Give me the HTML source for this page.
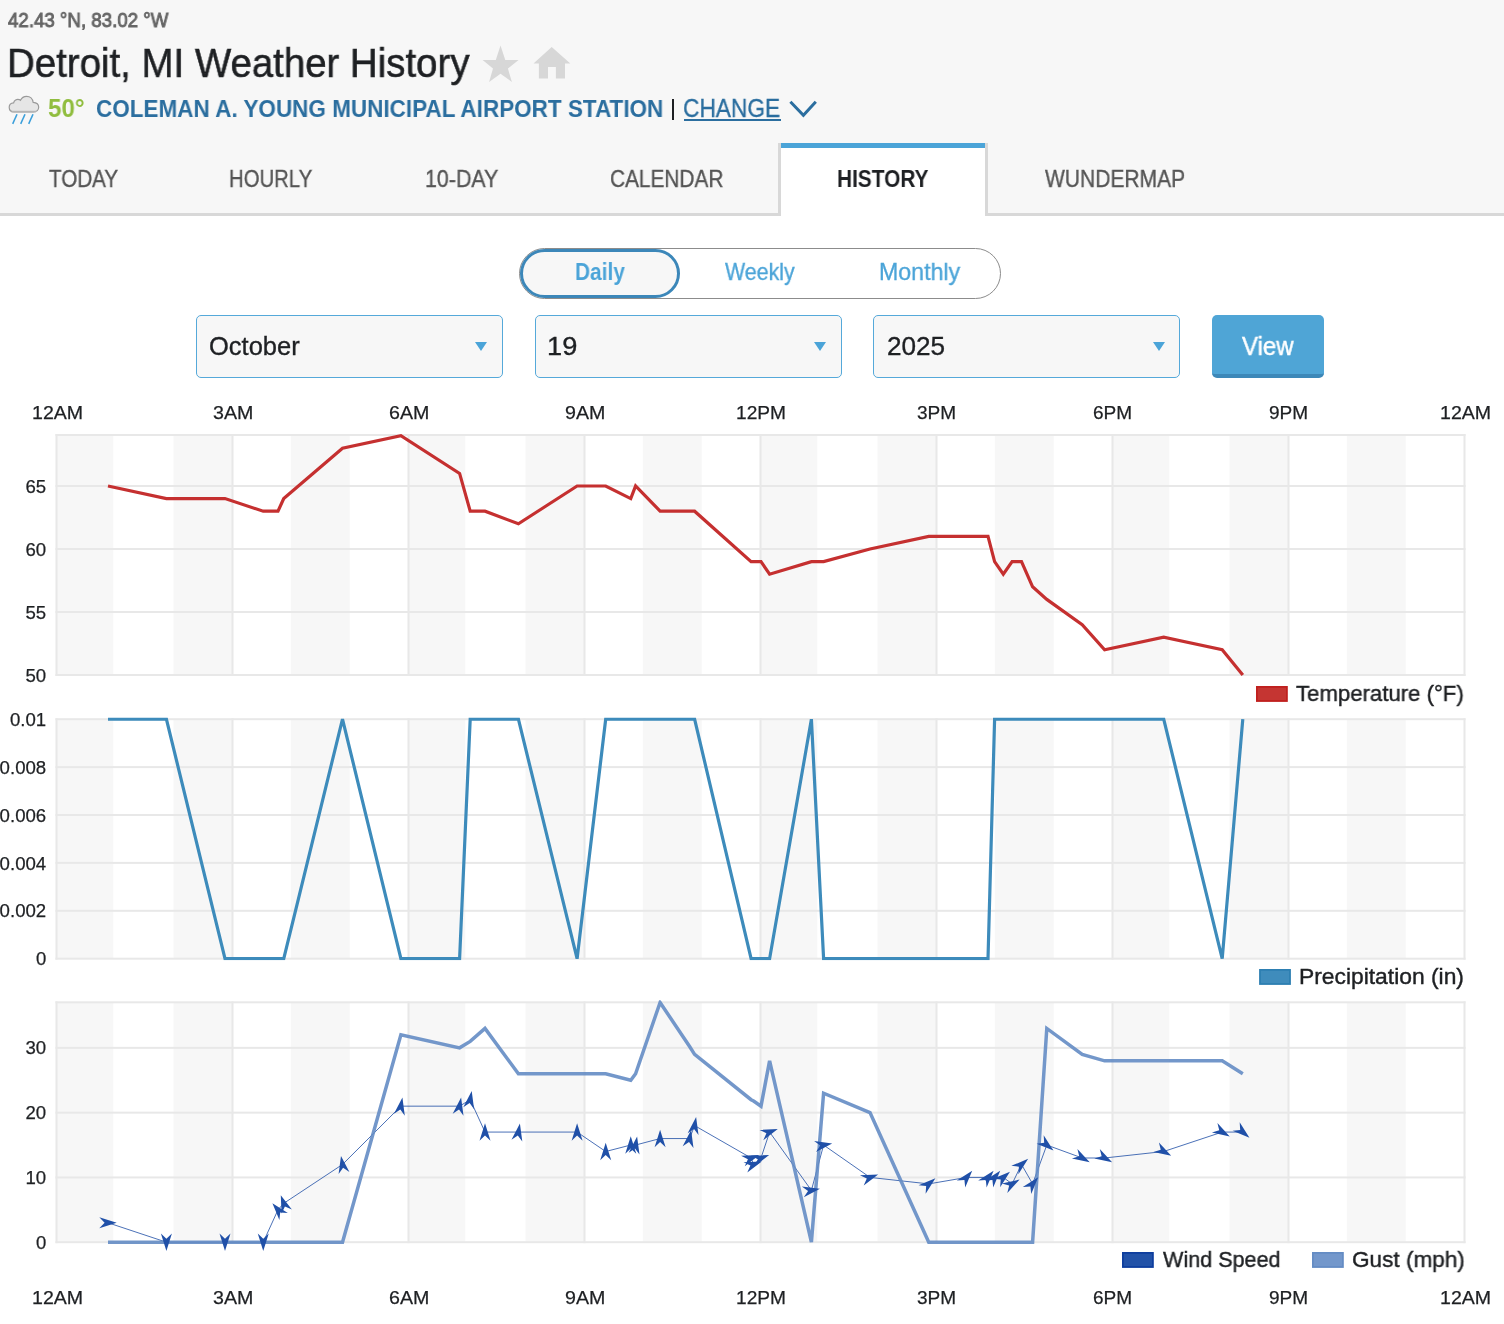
<!DOCTYPE html>
<html lang="en">
<head>
<meta charset="utf-8">
<title>Detroit, MI Weather History</title>
<style>
html,body{margin:0;padding:0;background:#fff;}
body{width:1504px;height:1324px;position:relative;overflow:hidden;font-family:"Liberation Sans",sans-serif;}
.t{will-change:transform;position:absolute;white-space:nowrap;line-height:1;transform-origin:0 50%;display:block;}
.abs{position:absolute;}
h1.t{margin:0;}a.t{text-decoration:none;cursor:pointer;}b.t{font-weight:normal;}
#header{left:0;top:0;width:1504px;height:213px;background:#f7f7f7;}
#tabline{left:0;top:213px;width:1504px;height:3px;background:#d8d8d8;}
#tabact{left:778px;top:143px;width:204px;height:73px;border-left:3px solid #d8d8d8;border-right:3px solid #d8d8d8;background:#fff;}
#tabact i{display:block;height:5px;background:#4ba4d8;}
#pill{left:519px;top:248px;width:480px;height:49px;border:1px solid #8c8c8c;border-radius:26px;background:#fff;}
#pillsel{left:520px;top:249px;width:154px;height:43px;border:3px solid #3c87b9;border-radius:26px;background:#f7f7f7;}
.sel{top:315px;height:61px;width:305px;border:1.4px solid #55a9da;border-radius:5px;background:#f7f7f7;}
.arr{width:0;height:0;border-left:6.3px solid transparent;border-right:6.3px solid transparent;border-top:9.5px solid #4ba4d8;top:342.4px;}
#viewbtn{left:1212px;top:315px;width:112px;height:59px;border-bottom:4px solid #3d88b8;border-radius:5px;background:#4fa5d6;}
#chg_ul{left:684px;top:119px;width:96.5px;height:2px;background:#2b6e9f;}
#vbar{left:672.2px;top:99.4px;width:1.8px;height:20.6px;background:#1e2023;}
</style>
</head>
<body>
<div id="header" class="abs"></div>
<div id="tabline" class="abs"></div>
<div id="tabact" class="abs"><i></i></div>
<svg class="abs" style="left:0;top:0" width="1504" height="216" viewBox="0 0 1504 216">
 <!-- star -->
 <polygon points="500.5,45.4 505.3,60 518.6,60 507.9,68.6 511.9,81.9 500.5,73.7 489.1,81.9 493,68.6 482.6,60 495.8,60" fill="#d7d7d7"/>
 <!-- home -->
 <path d="M551.7,47 L570.3,63.5 L565,63.5 L565,78.6 L555.9,78.6 L555.9,67 L548,67 L548,78.6 L538.9,78.6 L538.9,63.5 L533.5,63.5 Z" fill="#d7d7d7"/>
 <!-- cloud -->
 <path d="M14.2,112 C10.8,112 9.2,109.7 9.2,107.3 C9.2,104.6 11.2,102.9 13.6,102.8 C14.2,100.2 16.6,98.9 19.2,99.6 C19.6,99.7 20.1,99.9 20.5,100.2 C21.7,97.6 24.1,96.3 26.6,96.3 C30.1,96.3 32.7,98.9 33.1,102.3 C36.4,102.5 38.7,104.6 38.7,107.3 C38.7,110 36.6,112 33.6,112 Z" fill="#e6e6e6" stroke="#9a9a9a" stroke-width="1.2"/>
 <path d="M11.5,111.6 L36,111.6" stroke="#b5b5b5" stroke-width="1.6"/>
 <g stroke="#3a9fdb" stroke-width="1.55">
  <line x1="17" y1="114.3" x2="12.7" y2="123.9"/>
  <line x1="25" y1="114.3" x2="20.7" y2="123.9"/>
  <line x1="33" y1="114.3" x2="28.7" y2="123.9"/>
 </g>
 <!-- chevron -->
 <polyline points="790.4,101.8 803.4,115.2 815.8,101.8" fill="none" stroke="#2b6e9f" stroke-width="3"/>
</svg>
<div id="vbar" class="abs"></div>
<div id="chg_ul" class="abs"></div>
<div id="pill" class="abs"></div>
<div id="pillsel" class="abs"></div>
<div class="abs sel" style="left:196px"></div><div class="abs arr" style="left:474.9px"></div>
<div class="abs sel" style="left:535px"></div><div class="abs arr" style="left:813.7px"></div>
<div class="abs sel" style="left:873.4px"></div><div class="abs arr" style="left:1153px"></div>
<div id="viewbtn" class="abs"></div>
<svg class="charts" width="1504" height="1324" viewBox="0 0 1504 1324" style="will-change:transform;position:absolute;left:0;top:0;font-family:'Liberation Sans', sans-serif;font-size:19px;fill:#1e2023">
<rect x="56.20" y="435.0" width="57.07" height="240.0" fill="#f7f7f7"/>
<rect x="173.53" y="435.0" width="58.87" height="240.0" fill="#f7f7f7"/>
<rect x="290.87" y="435.0" width="58.87" height="240.0" fill="#f7f7f7"/>
<rect x="408.20" y="435.0" width="57.07" height="240.0" fill="#f7f7f7"/>
<rect x="525.53" y="435.0" width="58.87" height="240.0" fill="#f7f7f7"/>
<rect x="642.87" y="435.0" width="58.87" height="240.0" fill="#f7f7f7"/>
<rect x="760.20" y="435.0" width="57.07" height="240.0" fill="#f7f7f7"/>
<rect x="877.53" y="435.0" width="58.87" height="240.0" fill="#f7f7f7"/>
<rect x="994.87" y="435.0" width="58.87" height="240.0" fill="#f7f7f7"/>
<rect x="1112.20" y="435.0" width="57.07" height="240.0" fill="#f7f7f7"/>
<rect x="1229.53" y="435.0" width="58.87" height="240.0" fill="#f7f7f7"/>
<rect x="1346.87" y="435.0" width="58.87" height="240.0" fill="#f7f7f7"/>
<rect x="55.5" y="434.00" width="1410.0" height="2" fill="#e8e8e8"/>
<rect x="55.5" y="485.00" width="1410.0" height="2" fill="#e8e8e8"/>
<rect x="55.5" y="548.00" width="1410.0" height="2" fill="#e8e8e8"/>
<rect x="55.5" y="611.00" width="1410.0" height="2" fill="#e8e8e8"/>
<rect x="55.5" y="674.00" width="1410.0" height="2" fill="#e8e8e8"/>
<rect x="55.50" y="434.0" width="2" height="242.0" fill="#e8e8e8"/>
<rect x="231.50" y="434.0" width="2" height="242.0" fill="#e8e8e8"/>
<rect x="407.50" y="434.0" width="2" height="242.0" fill="#e8e8e8"/>
<rect x="583.50" y="434.0" width="2" height="242.0" fill="#e8e8e8"/>
<rect x="759.50" y="434.0" width="2" height="242.0" fill="#e8e8e8"/>
<rect x="935.50" y="434.0" width="2" height="242.0" fill="#e8e8e8"/>
<rect x="1111.50" y="434.0" width="2" height="242.0" fill="#e8e8e8"/>
<rect x="1287.50" y="434.0" width="2" height="242.0" fill="#e8e8e8"/>
<rect x="1463.50" y="434.0" width="2" height="242.0" fill="#e8e8e8"/>
<text x="46.2" y="492.60" text-anchor="end" stroke="#1e2023" stroke-width="0.25" textLength="20.7" lengthAdjust="spacingAndGlyphs">65</text>
<text x="46.2" y="555.60" text-anchor="end" stroke="#1e2023" stroke-width="0.25" textLength="20.7" lengthAdjust="spacingAndGlyphs">60</text>
<text x="46.2" y="618.60" text-anchor="end" stroke="#1e2023" stroke-width="0.25" textLength="20.7" lengthAdjust="spacingAndGlyphs">55</text>
<text x="46.2" y="681.60" text-anchor="end" stroke="#1e2023" stroke-width="0.25" textLength="20.7" lengthAdjust="spacingAndGlyphs">50</text>
<defs><clipPath id="c1"><rect x="56.5" y="433.4" width="1408.0" height="243.2"/></clipPath><clipPath id="c2"><rect x="56.5" y="717.6" width="1408.0" height="242.7"/></clipPath><clipPath id="c3"><rect x="56.5" y="1000.3" width="1408.0" height="243.9000000000001"/></clipPath></defs>
<polyline points="108.00,486.00 166.40,498.60 225.00,498.60 263.25,511.20 278.00,511.20 283.75,498.60 342.50,448.20 400.90,435.60 459.60,473.40 470.20,511.20 485.00,511.20 518.40,523.80 577.10,486.00 605.70,486.00 630.75,498.60 635.60,486.00 660.10,511.20 689.60,511.20 694.60,511.20 751.10,561.60 753.60,561.60 761.00,561.60 769.60,574.20 811.40,561.60 823.60,561.60 870.00,549.00 928.75,536.40 966.60,536.40 988.00,536.40 994.60,561.60 1003.30,574.20 1012.10,561.60 1021.50,561.60 1032.60,586.80 1046.80,599.40 1082.20,624.60 1104.60,649.80 1163.70,637.20 1222.20,649.80 1242.80,675.00" fill="none" stroke="#c53030" stroke-width="3.2" stroke-linejoin="miter" stroke-miterlimit="4" clip-path="url(#c1)"/>
<rect x="1256.0" y="686.0" width="31.8" height="15.9" fill="#c0201e"/><rect x="1257.8" y="687.8" width="28.2" height="12.3" fill="#c53532"/>
<rect x="56.20" y="719.2" width="57.07" height="239.5" fill="#f7f7f7"/>
<rect x="173.53" y="719.2" width="58.87" height="239.5" fill="#f7f7f7"/>
<rect x="290.87" y="719.2" width="58.87" height="239.5" fill="#f7f7f7"/>
<rect x="408.20" y="719.2" width="57.07" height="239.5" fill="#f7f7f7"/>
<rect x="525.53" y="719.2" width="58.87" height="239.5" fill="#f7f7f7"/>
<rect x="642.87" y="719.2" width="58.87" height="239.5" fill="#f7f7f7"/>
<rect x="760.20" y="719.2" width="57.07" height="239.5" fill="#f7f7f7"/>
<rect x="877.53" y="719.2" width="58.87" height="239.5" fill="#f7f7f7"/>
<rect x="994.87" y="719.2" width="58.87" height="239.5" fill="#f7f7f7"/>
<rect x="1112.20" y="719.2" width="57.07" height="239.5" fill="#f7f7f7"/>
<rect x="1229.53" y="719.2" width="58.87" height="239.5" fill="#f7f7f7"/>
<rect x="1346.87" y="719.2" width="58.87" height="239.5" fill="#f7f7f7"/>
<rect x="55.5" y="718.20" width="1410.0" height="2" fill="#e8e8e8"/>
<rect x="55.5" y="766.10" width="1410.0" height="2" fill="#e8e8e8"/>
<rect x="55.5" y="814.00" width="1410.0" height="2" fill="#e8e8e8"/>
<rect x="55.5" y="861.90" width="1410.0" height="2" fill="#e8e8e8"/>
<rect x="55.5" y="909.80" width="1410.0" height="2" fill="#e8e8e8"/>
<rect x="55.5" y="957.70" width="1410.0" height="2" fill="#e8e8e8"/>
<rect x="55.50" y="718.2" width="2" height="241.5" fill="#e8e8e8"/>
<rect x="231.50" y="718.2" width="2" height="241.5" fill="#e8e8e8"/>
<rect x="407.50" y="718.2" width="2" height="241.5" fill="#e8e8e8"/>
<rect x="583.50" y="718.2" width="2" height="241.5" fill="#e8e8e8"/>
<rect x="759.50" y="718.2" width="2" height="241.5" fill="#e8e8e8"/>
<rect x="935.50" y="718.2" width="2" height="241.5" fill="#e8e8e8"/>
<rect x="1111.50" y="718.2" width="2" height="241.5" fill="#e8e8e8"/>
<rect x="1287.50" y="718.2" width="2" height="241.5" fill="#e8e8e8"/>
<rect x="1463.50" y="718.2" width="2" height="241.5" fill="#e8e8e8"/>
<text x="46.2" y="725.80" text-anchor="end" stroke="#1e2023" stroke-width="0.25" textLength="36.2" lengthAdjust="spacingAndGlyphs">0.01</text>
<text x="46.2" y="773.70" text-anchor="end" stroke="#1e2023" stroke-width="0.25" textLength="46.6" lengthAdjust="spacingAndGlyphs">0.008</text>
<text x="46.2" y="821.60" text-anchor="end" stroke="#1e2023" stroke-width="0.25" textLength="46.6" lengthAdjust="spacingAndGlyphs">0.006</text>
<text x="46.2" y="869.50" text-anchor="end" stroke="#1e2023" stroke-width="0.25" textLength="46.6" lengthAdjust="spacingAndGlyphs">0.004</text>
<text x="46.2" y="917.40" text-anchor="end" stroke="#1e2023" stroke-width="0.25" textLength="46.6" lengthAdjust="spacingAndGlyphs">0.002</text>
<text x="46.2" y="965.30" text-anchor="end" stroke="#1e2023" stroke-width="0.25" textLength="10.3" lengthAdjust="spacingAndGlyphs">0</text>
<polyline points="108.00,719.20 166.40,719.20 225.00,958.70 263.25,958.70 278.00,958.70 283.75,958.70 342.50,719.20 400.90,958.70 459.60,958.70 470.20,719.20 485.00,719.20 518.40,719.20 577.10,958.70 605.70,719.20 630.75,719.20 635.60,719.20 660.10,719.20 689.60,719.20 694.60,719.20 751.10,958.70 753.60,958.70 761.00,958.70 769.60,958.70 811.40,719.20 823.60,958.70 870.00,958.70 928.75,958.70 966.60,958.70 988.00,958.70 994.60,719.20 1003.30,719.20 1012.10,719.20 1021.50,719.20 1032.60,719.20 1046.80,719.20 1082.20,719.20 1104.60,719.20 1163.70,719.20 1222.20,958.70 1242.80,719.20" fill="none" stroke="#3d8bbb" stroke-width="3.2" stroke-linejoin="miter" stroke-miterlimit="4" clip-path="url(#c2)"/>
<rect x="1259.1" y="969.0" width="31.8" height="15.9" fill="#2d7fb2"/><rect x="1260.8999999999999" y="970.8" width="28.2" height="12.3" fill="#3f8cbc"/>
<rect x="56.20" y="1002.3" width="57.07" height="239.9000000000001" fill="#f7f7f7"/>
<rect x="173.53" y="1002.3" width="58.87" height="239.9000000000001" fill="#f7f7f7"/>
<rect x="290.87" y="1002.3" width="58.87" height="239.9000000000001" fill="#f7f7f7"/>
<rect x="408.20" y="1002.3" width="57.07" height="239.9000000000001" fill="#f7f7f7"/>
<rect x="525.53" y="1002.3" width="58.87" height="239.9000000000001" fill="#f7f7f7"/>
<rect x="642.87" y="1002.3" width="58.87" height="239.9000000000001" fill="#f7f7f7"/>
<rect x="760.20" y="1002.3" width="57.07" height="239.9000000000001" fill="#f7f7f7"/>
<rect x="877.53" y="1002.3" width="58.87" height="239.9000000000001" fill="#f7f7f7"/>
<rect x="994.87" y="1002.3" width="58.87" height="239.9000000000001" fill="#f7f7f7"/>
<rect x="1112.20" y="1002.3" width="57.07" height="239.9000000000001" fill="#f7f7f7"/>
<rect x="1229.53" y="1002.3" width="58.87" height="239.9000000000001" fill="#f7f7f7"/>
<rect x="1346.87" y="1002.3" width="58.87" height="239.9000000000001" fill="#f7f7f7"/>
<rect x="55.5" y="1001.30" width="1410.0" height="2" fill="#e8e8e8"/>
<rect x="55.5" y="1046.86" width="1410.0" height="2" fill="#e8e8e8"/>
<rect x="55.5" y="1111.64" width="1410.0" height="2" fill="#e8e8e8"/>
<rect x="55.5" y="1176.42" width="1410.0" height="2" fill="#e8e8e8"/>
<rect x="55.5" y="1241.20" width="1410.0" height="2" fill="#e8e8e8"/>
<rect x="55.50" y="1001.3" width="2" height="241.9000000000001" fill="#e8e8e8"/>
<rect x="231.50" y="1001.3" width="2" height="241.9000000000001" fill="#e8e8e8"/>
<rect x="407.50" y="1001.3" width="2" height="241.9000000000001" fill="#e8e8e8"/>
<rect x="583.50" y="1001.3" width="2" height="241.9000000000001" fill="#e8e8e8"/>
<rect x="759.50" y="1001.3" width="2" height="241.9000000000001" fill="#e8e8e8"/>
<rect x="935.50" y="1001.3" width="2" height="241.9000000000001" fill="#e8e8e8"/>
<rect x="1111.50" y="1001.3" width="2" height="241.9000000000001" fill="#e8e8e8"/>
<rect x="1287.50" y="1001.3" width="2" height="241.9000000000001" fill="#e8e8e8"/>
<rect x="1463.50" y="1001.3" width="2" height="241.9000000000001" fill="#e8e8e8"/>
<text x="46.2" y="1054.46" text-anchor="end" stroke="#1e2023" stroke-width="0.25" textLength="20.7" lengthAdjust="spacingAndGlyphs">30</text>
<text x="46.2" y="1119.24" text-anchor="end" stroke="#1e2023" stroke-width="0.25" textLength="20.7" lengthAdjust="spacingAndGlyphs">20</text>
<text x="46.2" y="1184.02" text-anchor="end" stroke="#1e2023" stroke-width="0.25" textLength="20.7" lengthAdjust="spacingAndGlyphs">10</text>
<text x="46.2" y="1248.80" text-anchor="end" stroke="#1e2023" stroke-width="0.25" textLength="10.3" lengthAdjust="spacingAndGlyphs">0</text>
<polyline points="108.00,1222.77 166.40,1242.20 225.00,1242.20 263.25,1242.20 278.00,1209.81 283.75,1203.33 342.50,1164.46 400.90,1106.16 459.60,1106.16 470.20,1099.68 485.00,1132.07 518.40,1132.07 577.10,1132.07 605.70,1151.51 630.75,1145.03 635.60,1145.03 660.10,1138.55 689.60,1138.55 694.60,1125.60 751.10,1157.99 753.60,1164.46 761.00,1157.99 769.60,1132.07 811.40,1190.38 823.60,1145.03 870.00,1177.42 928.75,1183.90 966.60,1177.42 988.00,1177.42 994.60,1177.42 1003.30,1177.42 1012.10,1183.90 1021.50,1164.46 1032.60,1183.90 1046.80,1145.03 1082.20,1157.99 1104.60,1157.99 1163.70,1151.51 1222.20,1132.07 1242.80,1132.07" fill="none" stroke="#1f4ea6" stroke-width="0.95" stroke-linejoin="miter" stroke-miterlimit="4" stroke-opacity="0.85"/>
<polyline points="108.00,1242.20 166.40,1242.20 225.00,1242.20 263.25,1242.20 278.00,1242.20 283.75,1242.20 342.50,1242.20 400.90,1034.90 459.60,1047.86 470.20,1041.38 485.00,1028.43 518.40,1073.77 577.10,1073.77 605.70,1073.77 630.75,1080.25 635.60,1073.77 660.10,1002.51 689.60,1046.56 694.60,1054.34 751.10,1099.68 753.60,1100.98 761.00,1106.16 769.60,1060.82 811.40,1242.20 823.60,1093.21 870.00,1112.64 928.75,1242.20 966.60,1242.20 988.00,1242.20 994.60,1242.20 1003.30,1242.20 1012.10,1242.20 1021.50,1242.20 1032.60,1242.20 1046.80,1028.43 1082.20,1054.34 1104.60,1060.82 1163.70,1060.82 1222.20,1060.82 1242.80,1073.77" fill="none" stroke="#648cc4" stroke-width="3.5" stroke-linejoin="miter" stroke-miterlimit="4" stroke-opacity="0.9" clip-path="url(#c3)"/>
<path d="M0,-8.7L5.5,8.7L0,3.4L-5.5,8.7Z" fill="#2050a8" transform="translate(108.00,1222.77) rotate(90)"/>
<path d="M0,-8.7L5.5,8.7L0,3.4L-5.5,8.7Z" fill="#2050a8" transform="translate(166.40,1242.20) rotate(180)"/>
<path d="M0,-8.7L5.5,8.7L0,3.4L-5.5,8.7Z" fill="#2050a8" transform="translate(225.00,1242.20) rotate(180)"/>
<path d="M0,-8.7L5.5,8.7L0,3.4L-5.5,8.7Z" fill="#2050a8" transform="translate(263.25,1242.20) rotate(180)"/>
<path d="M0,-8.7L5.5,8.7L0,3.4L-5.5,8.7Z" fill="#2050a8" transform="translate(278.00,1209.81) rotate(320)"/>
<path d="M0,-8.7L5.5,8.7L0,3.4L-5.5,8.7Z" fill="#2050a8" transform="translate(283.75,1203.33) rotate(340)"/>
<path d="M0,-8.7L5.5,8.7L0,3.4L-5.5,8.7Z" fill="#2050a8" transform="translate(342.50,1164.46) rotate(350)"/>
<path d="M0,-8.7L5.5,8.7L0,3.4L-5.5,8.7Z" fill="#2050a8" transform="translate(400.90,1106.16) rotate(10)"/>
<path d="M0,-8.7L5.5,8.7L0,3.4L-5.5,8.7Z" fill="#2050a8" transform="translate(459.60,1106.16) rotate(10)"/>
<path d="M0,-8.7L5.5,8.7L0,3.4L-5.5,8.7Z" fill="#2050a8" transform="translate(470.20,1099.68) rotate(10)"/>
<path d="M0,-8.7L5.5,8.7L0,3.4L-5.5,8.7Z" fill="#2050a8" transform="translate(485.00,1132.07) rotate(0)"/>
<path d="M0,-8.7L5.5,8.7L0,3.4L-5.5,8.7Z" fill="#2050a8" transform="translate(518.40,1132.07) rotate(10)"/>
<path d="M0,-8.7L5.5,8.7L0,3.4L-5.5,8.7Z" fill="#2050a8" transform="translate(577.10,1132.07) rotate(0)"/>
<path d="M0,-8.7L5.5,8.7L0,3.4L-5.5,8.7Z" fill="#2050a8" transform="translate(605.70,1151.51) rotate(0)"/>
<path d="M0,-8.7L5.5,8.7L0,3.4L-5.5,8.7Z" fill="#2050a8" transform="translate(630.75,1145.03) rotate(0)"/>
<path d="M0,-8.7L5.5,8.7L0,3.4L-5.5,8.7Z" fill="#2050a8" transform="translate(635.60,1145.03) rotate(10)"/>
<path d="M0,-8.7L5.5,8.7L0,3.4L-5.5,8.7Z" fill="#2050a8" transform="translate(660.10,1138.55) rotate(0)"/>
<path d="M0,-8.7L5.5,8.7L0,3.4L-5.5,8.7Z" fill="#2050a8" transform="translate(689.60,1138.55) rotate(10)"/>
<path d="M0,-8.7L5.5,8.7L0,3.4L-5.5,8.7Z" fill="#2050a8" transform="translate(694.60,1125.60) rotate(10)"/>
<path d="M0,-8.7L5.5,8.7L0,3.4L-5.5,8.7Z" fill="#2050a8" transform="translate(751.10,1157.99) rotate(70)"/>
<path d="M0,-8.7L5.5,8.7L0,3.4L-5.5,8.7Z" fill="#2050a8" transform="translate(753.60,1164.46) rotate(70)"/>
<path d="M0,-8.7L5.5,8.7L0,3.4L-5.5,8.7Z" fill="#2050a8" transform="translate(761.00,1157.99) rotate(70)"/>
<path d="M0,-8.7L5.5,8.7L0,3.4L-5.5,8.7Z" fill="#2050a8" transform="translate(769.60,1132.07) rotate(70)"/>
<path d="M0,-8.7L5.5,8.7L0,3.4L-5.5,8.7Z" fill="#2050a8" transform="translate(811.40,1190.38) rotate(80)"/>
<path d="M0,-8.7L5.5,8.7L0,3.4L-5.5,8.7Z" fill="#2050a8" transform="translate(823.60,1145.03) rotate(80)"/>
<path d="M0,-8.7L5.5,8.7L0,3.4L-5.5,8.7Z" fill="#2050a8" transform="translate(870.00,1177.42) rotate(70)"/>
<path d="M0,-8.7L5.5,8.7L0,3.4L-5.5,8.7Z" fill="#2050a8" transform="translate(928.75,1183.90) rotate(50)"/>
<path d="M0,-8.7L5.5,8.7L0,3.4L-5.5,8.7Z" fill="#2050a8" transform="translate(966.60,1177.42) rotate(40)"/>
<path d="M0,-8.7L5.5,8.7L0,3.4L-5.5,8.7Z" fill="#2050a8" transform="translate(988.00,1177.42) rotate(40)"/>
<path d="M0,-8.7L5.5,8.7L0,3.4L-5.5,8.7Z" fill="#2050a8" transform="translate(994.60,1177.42) rotate(40)"/>
<path d="M0,-8.7L5.5,8.7L0,3.4L-5.5,8.7Z" fill="#2050a8" transform="translate(1003.30,1177.42) rotate(50)"/>
<path d="M0,-8.7L5.5,8.7L0,3.4L-5.5,8.7Z" fill="#2050a8" transform="translate(1012.10,1183.90) rotate(60)"/>
<path d="M0,-8.7L5.5,8.7L0,3.4L-5.5,8.7Z" fill="#2050a8" transform="translate(1021.50,1164.46) rotate(50)"/>
<path d="M0,-8.7L5.5,8.7L0,3.4L-5.5,8.7Z" fill="#2050a8" transform="translate(1032.60,1183.90) rotate(40)"/>
<path d="M0,-8.7L5.5,8.7L0,3.4L-5.5,8.7Z" fill="#2050a8" transform="translate(1046.80,1145.03) rotate(130)"/>
<path d="M0,-8.7L5.5,8.7L0,3.4L-5.5,8.7Z" fill="#2050a8" transform="translate(1082.20,1157.99) rotate(120)"/>
<path d="M0,-8.7L5.5,8.7L0,3.4L-5.5,8.7Z" fill="#2050a8" transform="translate(1104.60,1157.99) rotate(120)"/>
<path d="M0,-8.7L5.5,8.7L0,3.4L-5.5,8.7Z" fill="#2050a8" transform="translate(1163.70,1151.51) rotate(120)"/>
<path d="M0,-8.7L5.5,8.7L0,3.4L-5.5,8.7Z" fill="#2050a8" transform="translate(1222.20,1132.07) rotate(120)"/>
<path d="M0,-8.7L5.5,8.7L0,3.4L-5.5,8.7Z" fill="#2050a8" transform="translate(1242.80,1132.07) rotate(130)"/>
<rect x="1122.0" y="1252.0" width="31.8" height="15.9" fill="#0e3e9e"/><rect x="1123.8" y="1253.8" width="28.2" height="12.3" fill="#2252a8"/>
<rect x="1312.0" y="1252.0" width="31.8" height="15.9" fill="#648cc4"/><rect x="1313.8" y="1253.8" width="28.2" height="12.3" fill="#7397cb"/>
</svg>
<span class="t" id="coord" style="left:8.00px;top:11.15px;font-size:19.91px;font-weight:normal;color:#666;transform:scaleX(0.9386);-webkit-text-stroke:0.9px #666;">42.43 °N, 83.02 °W</span>
<h1 class="t" id="title" style="left:7.18px;top:42.53px;font-size:40.84px;font-weight:normal;color:#1e2023;transform:scaleX(0.9409);-webkit-text-stroke:0.55px #1e2023;">Detroit, MI Weather History</h1>
<span class="t" id="t50" style="left:48.30px;top:95.55px;font-size:25.58px;font-weight:bold;color:#90bd3e;transform:scaleX(0.9438);">50°</span>
<a class="t" id="station" style="left:96.00px;top:96.52px;font-size:23.84px;font-weight:bold;color:#2b6e9f;transform:scaleX(0.9439);">COLEMAN A. YOUNG MUNICIPAL AIRPORT STATION</a>
<a class="t" id="change" style="left:683.35px;top:95.71px;font-size:25.15px;font-weight:normal;color:#2b6e9f;transform:scaleX(0.9035);-webkit-text-stroke:0.3px #2b6e9f;">CHANGE</a>
<a class="t" id="tab1" style="left:48.85px;top:167.74px;font-size:23.11px;font-weight:normal;color:#555;transform:scaleX(0.8926);-webkit-text-stroke:0.35px #555;">TODAY</a>
<a class="t" id="tab2" style="left:228.92px;top:167.74px;font-size:23.11px;font-weight:normal;color:#555;transform:scaleX(0.8796);-webkit-text-stroke:0.35px #555;">HOURLY</a>
<a class="t" id="tab3" style="left:424.68px;top:167.74px;font-size:23.11px;font-weight:normal;color:#555;transform:scaleX(0.9262);-webkit-text-stroke:0.35px #555;">10-DAY</a>
<a class="t" id="tab4" style="left:609.60px;top:167.74px;font-size:23.11px;font-weight:normal;color:#555;transform:scaleX(0.9010);-webkit-text-stroke:0.35px #555;">CALENDAR</a>
<a class="t" id="tab5" style="left:836.62px;top:167.74px;font-size:23.11px;font-weight:bold;color:#1e2023;transform:scaleX(0.9020);">HISTORY</a>
<a class="t" id="tab6" style="left:1045.00px;top:167.74px;font-size:23.11px;font-weight:normal;color:#555;transform:scaleX(0.9091);-webkit-text-stroke:0.35px #555;">WUNDERMAP</a>
<a class="t" id="daily" style="left:575.07px;top:261.21px;font-size:23.26px;font-weight:bold;color:#4ba4d8;transform:scaleX(0.8968);">Daily</a>
<a class="t" id="weekly" style="left:725.00px;top:261.01px;font-size:23.26px;font-weight:normal;color:#4ba4d8;transform:scaleX(0.9182);-webkit-text-stroke:0.3px #4ba4d8;">Weekly</a>
<a class="t" id="monthly" style="left:879.02px;top:261.01px;font-size:23.26px;font-weight:normal;color:#4ba4d8;transform:scaleX(0.9964);-webkit-text-stroke:0.3px #4ba4d8;">Monthly</a>
<span class="t" id="selm" style="left:208.93px;top:333.99px;font-size:25.29px;font-weight:normal;color:#1e2023;transform:scaleX(1.0078);-webkit-text-stroke:0.35px #1e2023;">October</span>
<span class="t" id="seld" style="left:546.96px;top:333.99px;font-size:25.29px;font-weight:normal;color:#1e2023;transform:scaleX(1.0759);-webkit-text-stroke:0.35px #1e2023;">19</span>
<span class="t" id="sely" style="left:886.95px;top:333.99px;font-size:25.29px;font-weight:normal;color:#1e2023;transform:scaleX(1.0334);-webkit-text-stroke:0.35px #1e2023;">2025</span>
<b class="t" id="view" style="left:1242.00px;top:333.64px;font-size:25.0px;font-weight:normal;color:#fff;transform:scaleX(0.9577);-webkit-text-stroke:0.45px #fff;">View</b>
<span class="t" id="legT" style="left:1296.46px;top:681.61px;font-size:22.67px;font-weight:normal;color:#1e2023;transform:scaleX(0.9784);-webkit-text-stroke:0.42px #1e2023;">Temperature (°F)</span>
<span class="t" id="legP" style="left:1299.03px;top:964.91px;font-size:22.67px;font-weight:normal;color:#1e2023;transform:scaleX(1.0076);-webkit-text-stroke:0.42px #1e2023;">Precipitation (in)</span>
<span class="t" id="legW" style="left:1163.00px;top:1247.91px;font-size:22.67px;font-weight:normal;color:#1e2023;transform:scaleX(0.9526);-webkit-text-stroke:0.42px #1e2023;">Wind Speed</span>
<span class="t" id="legG" style="left:1351.51px;top:1247.91px;font-size:22.67px;font-weight:normal;color:#1e2023;transform:scaleX(0.9953);-webkit-text-stroke:0.42px #1e2023;">Gust (mph)</span>
<span class="t" id="x0_0" style="left:31.76px;top:402.78px;font-size:19.04px;font-weight:normal;color:#1e2023;transform:scaleX(1.0282);-webkit-text-stroke:0.25px #1e2023;">12AM</span>
<span class="t" id="x0_1" style="left:212.50px;top:402.78px;font-size:19.04px;font-weight:normal;color:#1e2023;transform:scaleX(1.0317);-webkit-text-stroke:0.25px #1e2023;">3AM</span>
<span class="t" id="x0_2" style="left:388.50px;top:402.78px;font-size:19.04px;font-weight:normal;color:#1e2023;transform:scaleX(1.0317);-webkit-text-stroke:0.25px #1e2023;">6AM</span>
<span class="t" id="x0_3" style="left:564.50px;top:402.78px;font-size:19.04px;font-weight:normal;color:#1e2023;transform:scaleX(1.0317);-webkit-text-stroke:0.25px #1e2023;">9AM</span>
<span class="t" id="x0_4" style="left:735.64px;top:402.78px;font-size:19.04px;font-weight:normal;color:#1e2023;transform:scaleX(1.0046);-webkit-text-stroke:0.25px #1e2023;">12PM</span>
<span class="t" id="x0_5" style="left:917.00px;top:402.78px;font-size:19.04px;font-weight:normal;color:#1e2023;transform:scaleX(0.9989);-webkit-text-stroke:0.25px #1e2023;">3PM</span>
<span class="t" id="x0_6" style="left:1093.00px;top:402.78px;font-size:19.04px;font-weight:normal;color:#1e2023;transform:scaleX(0.9989);-webkit-text-stroke:0.25px #1e2023;">6PM</span>
<span class="t" id="x0_7" style="left:1269.00px;top:402.78px;font-size:19.04px;font-weight:normal;color:#1e2023;transform:scaleX(0.9989);-webkit-text-stroke:0.25px #1e2023;">9PM</span>
<span class="t" id="x0_8" style="left:1439.76px;top:402.78px;font-size:19.04px;font-weight:normal;color:#1e2023;transform:scaleX(1.0282);-webkit-text-stroke:0.25px #1e2023;">12AM</span>
<span class="t" id="x1_0" style="left:31.76px;top:1287.68px;font-size:19.04px;font-weight:normal;color:#1e2023;transform:scaleX(1.0282);-webkit-text-stroke:0.25px #1e2023;">12AM</span>
<span class="t" id="x1_1" style="left:212.50px;top:1287.68px;font-size:19.04px;font-weight:normal;color:#1e2023;transform:scaleX(1.0317);-webkit-text-stroke:0.25px #1e2023;">3AM</span>
<span class="t" id="x1_2" style="left:388.50px;top:1287.68px;font-size:19.04px;font-weight:normal;color:#1e2023;transform:scaleX(1.0317);-webkit-text-stroke:0.25px #1e2023;">6AM</span>
<span class="t" id="x1_3" style="left:564.50px;top:1287.68px;font-size:19.04px;font-weight:normal;color:#1e2023;transform:scaleX(1.0317);-webkit-text-stroke:0.25px #1e2023;">9AM</span>
<span class="t" id="x1_4" style="left:735.64px;top:1287.68px;font-size:19.04px;font-weight:normal;color:#1e2023;transform:scaleX(1.0046);-webkit-text-stroke:0.25px #1e2023;">12PM</span>
<span class="t" id="x1_5" style="left:917.00px;top:1287.68px;font-size:19.04px;font-weight:normal;color:#1e2023;transform:scaleX(0.9989);-webkit-text-stroke:0.25px #1e2023;">3PM</span>
<span class="t" id="x1_6" style="left:1093.00px;top:1287.68px;font-size:19.04px;font-weight:normal;color:#1e2023;transform:scaleX(0.9989);-webkit-text-stroke:0.25px #1e2023;">6PM</span>
<span class="t" id="x1_7" style="left:1269.00px;top:1287.68px;font-size:19.04px;font-weight:normal;color:#1e2023;transform:scaleX(0.9989);-webkit-text-stroke:0.25px #1e2023;">9PM</span>
<span class="t" id="x1_8" style="left:1439.76px;top:1287.68px;font-size:19.04px;font-weight:normal;color:#1e2023;transform:scaleX(1.0282);-webkit-text-stroke:0.25px #1e2023;">12AM</span>
</body>
</html>
